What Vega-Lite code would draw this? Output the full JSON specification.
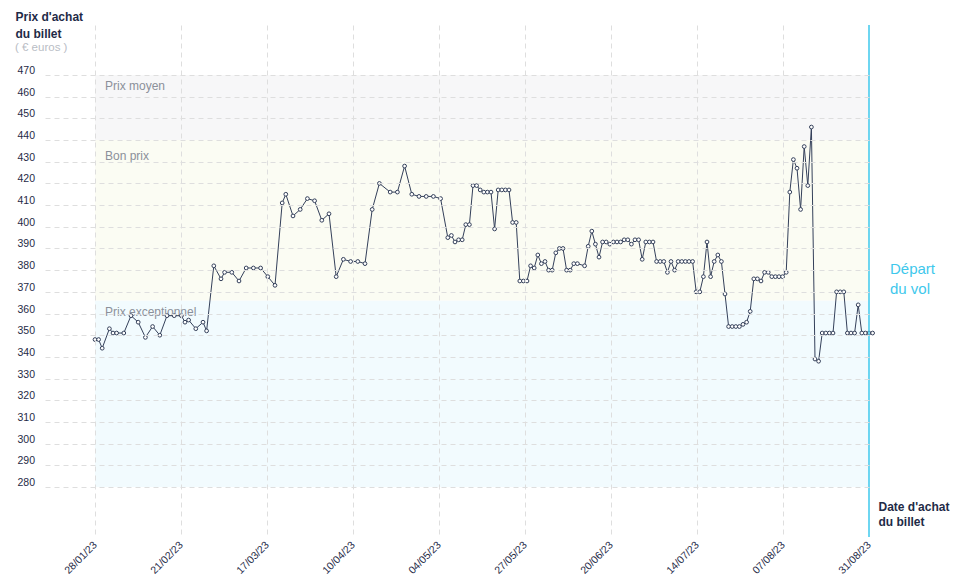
{
  "$schema": "https://vega.github.io/schema/vega-lite/v6.json",
  "width": 824,
  "height": 512,
  "autosize": {"type": "none"},
  "padding": {"left": 45, "top": 25, "right": 89, "bottom": 48},
  "background": "white",
  "config": {"view": {"stroke": null}, "font": "Liberation Sans"},
  "title": {"text": "( € euros )", "anchor": "start", "frame": "group", "orient": "top", "dx": -30, "offset": -43, "fontSize": 11.5, "fontWeight": "normal", "color": "#b9bdc5", "font": "Liberation Sans"},
  "datasets": {
    "bands": [
      {"name": "Prix exceptionnel", "start": "2023-01-28", "end": "2023-08-31", "lo": 280, "hi": 366},
      {"name": "Bon prix", "start": "2023-01-28", "end": "2023-08-31", "lo": 366, "hi": 440},
      {"name": "Prix moyen", "start": "2023-01-28", "end": "2023-08-31", "lo": 440, "hi": 470}
    ],
    "depart": [
      {"date": "2023-08-31", "level": 378, "label": "Départ\ndu vol"}
    ],
    "prices": [
      {"date": "2023-01-28", "price": 348},
      {"date": "2023-01-29", "price": 348},
      {"date": "2023-01-30", "price": 344},
      {"date": "2023-02-01", "price": 353},
      {"date": "2023-02-02", "price": 351},
      {"date": "2023-02-03", "price": 351},
      {"date": "2023-02-05", "price": 351},
      {"date": "2023-02-07", "price": 359},
      {"date": "2023-02-09", "price": 356},
      {"date": "2023-02-11", "price": 349},
      {"date": "2023-02-13", "price": 354},
      {"date": "2023-02-15", "price": 350},
      {"date": "2023-02-17", "price": 359},
      {"date": "2023-02-19", "price": 359},
      {"date": "2023-02-21", "price": 359},
      {"date": "2023-02-22", "price": 356},
      {"date": "2023-02-23", "price": 357},
      {"date": "2023-02-25", "price": 353},
      {"date": "2023-02-27", "price": 356},
      {"date": "2023-02-28", "price": 352},
      {"date": "2023-03-02", "price": 382},
      {"date": "2023-03-04", "price": 376},
      {"date": "2023-03-05", "price": 379},
      {"date": "2023-03-07", "price": 379},
      {"date": "2023-03-09", "price": 375},
      {"date": "2023-03-11", "price": 381},
      {"date": "2023-03-13", "price": 381},
      {"date": "2023-03-15", "price": 381},
      {"date": "2023-03-17", "price": 377},
      {"date": "2023-03-19", "price": 373},
      {"date": "2023-03-21", "price": 411},
      {"date": "2023-03-22", "price": 415},
      {"date": "2023-03-24", "price": 405},
      {"date": "2023-03-26", "price": 408},
      {"date": "2023-03-28", "price": 413},
      {"date": "2023-03-30", "price": 412},
      {"date": "2023-04-01", "price": 403},
      {"date": "2023-04-03", "price": 406},
      {"date": "2023-04-05", "price": 377},
      {"date": "2023-04-07", "price": 385},
      {"date": "2023-04-09", "price": 384},
      {"date": "2023-04-11", "price": 384},
      {"date": "2023-04-13", "price": 383},
      {"date": "2023-04-15", "price": 408},
      {"date": "2023-04-17", "price": 420},
      {"date": "2023-04-20", "price": 416},
      {"date": "2023-04-22", "price": 416},
      {"date": "2023-04-24", "price": 428},
      {"date": "2023-04-26", "price": 415},
      {"date": "2023-04-28", "price": 414},
      {"date": "2023-04-30", "price": 414},
      {"date": "2023-05-02", "price": 414},
      {"date": "2023-05-04", "price": 413},
      {"date": "2023-05-06", "price": 395},
      {"date": "2023-05-07", "price": 396},
      {"date": "2023-05-08", "price": 393},
      {"date": "2023-05-09", "price": 394},
      {"date": "2023-05-10", "price": 394},
      {"date": "2023-05-11", "price": 401},
      {"date": "2023-05-12", "price": 401},
      {"date": "2023-05-13", "price": 419},
      {"date": "2023-05-14", "price": 419},
      {"date": "2023-05-15", "price": 417},
      {"date": "2023-05-16", "price": 416},
      {"date": "2023-05-17", "price": 416},
      {"date": "2023-05-18", "price": 416},
      {"date": "2023-05-19", "price": 399},
      {"date": "2023-05-20", "price": 417},
      {"date": "2023-05-21", "price": 417},
      {"date": "2023-05-22", "price": 417},
      {"date": "2023-05-23", "price": 417},
      {"date": "2023-05-24", "price": 402},
      {"date": "2023-05-25", "price": 402},
      {"date": "2023-05-26", "price": 375},
      {"date": "2023-05-27", "price": 375},
      {"date": "2023-05-28", "price": 375},
      {"date": "2023-05-29", "price": 382},
      {"date": "2023-05-30", "price": 381},
      {"date": "2023-05-31", "price": 387},
      {"date": "2023-06-01", "price": 383},
      {"date": "2023-06-02", "price": 384},
      {"date": "2023-06-03", "price": 380},
      {"date": "2023-06-04", "price": 380},
      {"date": "2023-06-05", "price": 388},
      {"date": "2023-06-06", "price": 390},
      {"date": "2023-06-07", "price": 390},
      {"date": "2023-06-08", "price": 380},
      {"date": "2023-06-09", "price": 380},
      {"date": "2023-06-10", "price": 383},
      {"date": "2023-06-11", "price": 383},
      {"date": "2023-06-13", "price": 382},
      {"date": "2023-06-14", "price": 391},
      {"date": "2023-06-15", "price": 398},
      {"date": "2023-06-16", "price": 392},
      {"date": "2023-06-17", "price": 386},
      {"date": "2023-06-18", "price": 393},
      {"date": "2023-06-19", "price": 393},
      {"date": "2023-06-20", "price": 392},
      {"date": "2023-06-21", "price": 393},
      {"date": "2023-06-22", "price": 393},
      {"date": "2023-06-23", "price": 393},
      {"date": "2023-06-24", "price": 394},
      {"date": "2023-06-25", "price": 394},
      {"date": "2023-06-26", "price": 392},
      {"date": "2023-06-27", "price": 394},
      {"date": "2023-06-28", "price": 394},
      {"date": "2023-06-29", "price": 385},
      {"date": "2023-06-30", "price": 393},
      {"date": "2023-07-01", "price": 393},
      {"date": "2023-07-02", "price": 393},
      {"date": "2023-07-03", "price": 384},
      {"date": "2023-07-04", "price": 384},
      {"date": "2023-07-05", "price": 384},
      {"date": "2023-07-06", "price": 379},
      {"date": "2023-07-07", "price": 384},
      {"date": "2023-07-08", "price": 380},
      {"date": "2023-07-09", "price": 384},
      {"date": "2023-07-10", "price": 384},
      {"date": "2023-07-11", "price": 384},
      {"date": "2023-07-12", "price": 384},
      {"date": "2023-07-13", "price": 384},
      {"date": "2023-07-14", "price": 370},
      {"date": "2023-07-15", "price": 370},
      {"date": "2023-07-16", "price": 377},
      {"date": "2023-07-17", "price": 393},
      {"date": "2023-07-18", "price": 377},
      {"date": "2023-07-19", "price": 384},
      {"date": "2023-07-20", "price": 387},
      {"date": "2023-07-21", "price": 384},
      {"date": "2023-07-22", "price": 369},
      {"date": "2023-07-23", "price": 354},
      {"date": "2023-07-24", "price": 354},
      {"date": "2023-07-25", "price": 354},
      {"date": "2023-07-26", "price": 354},
      {"date": "2023-07-27", "price": 355},
      {"date": "2023-07-28", "price": 356},
      {"date": "2023-07-29", "price": 361},
      {"date": "2023-07-30", "price": 376},
      {"date": "2023-07-31", "price": 376},
      {"date": "2023-08-01", "price": 375},
      {"date": "2023-08-02", "price": 379},
      {"date": "2023-08-03", "price": 379},
      {"date": "2023-08-04", "price": 377},
      {"date": "2023-08-05", "price": 377},
      {"date": "2023-08-06", "price": 377},
      {"date": "2023-08-07", "price": 377},
      {"date": "2023-08-08", "price": 379},
      {"date": "2023-08-09", "price": 416},
      {"date": "2023-08-10", "price": 431},
      {"date": "2023-08-11", "price": 427},
      {"date": "2023-08-12", "price": 408},
      {"date": "2023-08-13", "price": 437},
      {"date": "2023-08-14", "price": 419},
      {"date": "2023-08-15", "price": 446},
      {"date": "2023-08-16", "price": 339},
      {"date": "2023-08-17", "price": 338},
      {"date": "2023-08-18", "price": 351},
      {"date": "2023-08-19", "price": 351},
      {"date": "2023-08-20", "price": 351},
      {"date": "2023-08-21", "price": 351},
      {"date": "2023-08-22", "price": 370},
      {"date": "2023-08-23", "price": 370},
      {"date": "2023-08-24", "price": 370},
      {"date": "2023-08-25", "price": 351},
      {"date": "2023-08-26", "price": 351},
      {"date": "2023-08-27", "price": 351},
      {"date": "2023-08-28", "price": 364},
      {"date": "2023-08-29", "price": 351},
      {"date": "2023-08-30", "price": 351},
      {"date": "2023-08-31", "price": 351},
      {"date": "2023-09-01", "price": 351}
    ]
  },
  "layer": [
    {
      "data": {"name": "bands"},
      "mark": {"type": "rect"},
      "encoding": {
        "x": {"field": "start", "type": "temporal",
          "scale": {"type": "utc", "domain": [1673664000000, 1693440000000]},
          "axis": {
            "values": [1674864000000, 1676928000000, 1678992000000, 1681056000000, 1683120000000, 1685184000000, 1687248000000, 1689312000000, 1691376000000, 1693440000000],
            "labelExpr": "utcFormat(toNumber(datum.value) + 43200000, '%d/%m/%y')",
            "labelAngle": -45, "labelAlign": "right", "labelBaseline": "middle", "labelPadding": 6,
            "labelFontSize": 10.5, "labelColor": "#1f2b47", "labelOverlap": false, "labelFlush": false,
            "domain": false, "ticks": false, "zindex": 1,
            "grid": true, "gridColor": "#dedede", "gridDash": [5, 4], "gridWidth": 1,
            "gridOpacity": {"condition": {"test": "toNumber(datum.value) >= 1693440000000", "value": 0}, "value": 1},
            "title": ["Date d'achat", "du billet"], "titleX": 833, "titleY": -36, "titleAlign": "left", "titleAngle": 0,
            "titleBaseline": "top", "titleFontSize": 12, "titleFontWeight": "bold", "titleColor": "#1f2b47", "titleLineHeight": 15
          }
        },
        "x2": {"field": "end"},
        "y": {"field": "lo", "type": "quantitative",
          "scale": {"domain": [256.94, 493.06], "zero": false, "nice": false},
          "axis": {
            "values": [280, 290, 300, 310, 320, 330, 340, 350, 360, 370, 380, 390, 400, 410, 420, 430, 440, 450, 460, 470],
            "tickCount": 30,
            "domain": false, "ticks": false, "zindex": 1, "labelOverlap": false,
            "grid": true, "gridColor": "#dedede", "gridDash": [5, 4], "gridWidth": 1,
            "labelAlign": "left", "labelPadding": 28, "labelBaseline": "alphabetic", "labelOffset": -1.5,
            "labelFontSize": 10.5, "labelColor": "#1f2b47",
            "title": ["Prix d'achat", "du billet"], "titleAngle": 0, "titleAlign": "left", "titleBaseline": "top",
            "titleX": -30, "titleY": -14, "titleFontSize": 12, "titleFontWeight": "bold", "titleColor": "#1f2b47", "titleLineHeight": 17
          }
        },
        "y2": {"field": "hi"},
        "color": {"field": "name", "type": "nominal", "legend": null,
          "scale": {"domain": ["Prix moyen", "Bon prix", "Prix exceptionnel"], "range": ["#f7f7f8", "#fbfcf3", "#f2fbfe"]}}
      }
    },
    {
      "data": {"name": "bands"},
      "transform": [{"filter": "datum.name != 'Bon prix'"}],
      "mark": {"type": "text", "align": "left", "baseline": "alphabetic", "dx": 10, "dy": 15, "fontSize": 12, "color": "#8b909a"},
      "encoding": {
        "x": {"field": "start", "type": "temporal"},
        "y": {"field": "hi", "type": "quantitative"},
        "text": {"field": "name"}
      }
    },
    {
      "data": {"name": "bands"},
      "transform": [{"filter": "datum.name == 'Bon prix'"}],
      "mark": {"type": "text", "align": "left", "baseline": "alphabetic", "dx": 10, "dy": 20, "fontSize": 12, "color": "#8b909a"},
      "encoding": {
        "x": {"field": "start", "type": "temporal"},
        "y": {"field": "hi", "type": "quantitative"},
        "text": {"field": "name"}
      }
    },
    {
      "data": {"name": "prices"},
      "mark": {"type": "line", "color": "#34405a", "strokeWidth": 1},
      "encoding": {
        "x": {"field": "date", "type": "temporal"},
        "y": {"field": "price", "type": "quantitative"}
      }
    },
    {
      "data": {"name": "prices"},
      "mark": {"type": "point", "filled": true, "fill": "white", "stroke": "#34405a", "strokeWidth": 1, "size": 14, "opacity": 1},
      "encoding": {
        "x": {"field": "date", "type": "temporal"},
        "y": {"field": "price", "type": "quantitative"}
      }
    },
    {
      "data": {"name": "depart"},
      "mark": {"type": "rule", "color": "#3ec8ec", "strokeWidth": 1.5},
      "encoding": {
        "x": {"field": "date", "type": "temporal"}
      }
    },
    {
      "data": {"name": "depart"},
      "mark": {"type": "text", "align": "left", "baseline": "alphabetic", "dx": 21, "fontSize": 15, "color": "#3ec8ec", "lineBreak": "\n", "lineHeight": 20},
      "encoding": {
        "x": {"field": "date", "type": "temporal"},
        "y": {"field": "level", "type": "quantitative"},
        "text": {"field": "label"}
      }
    }
  ]
}
